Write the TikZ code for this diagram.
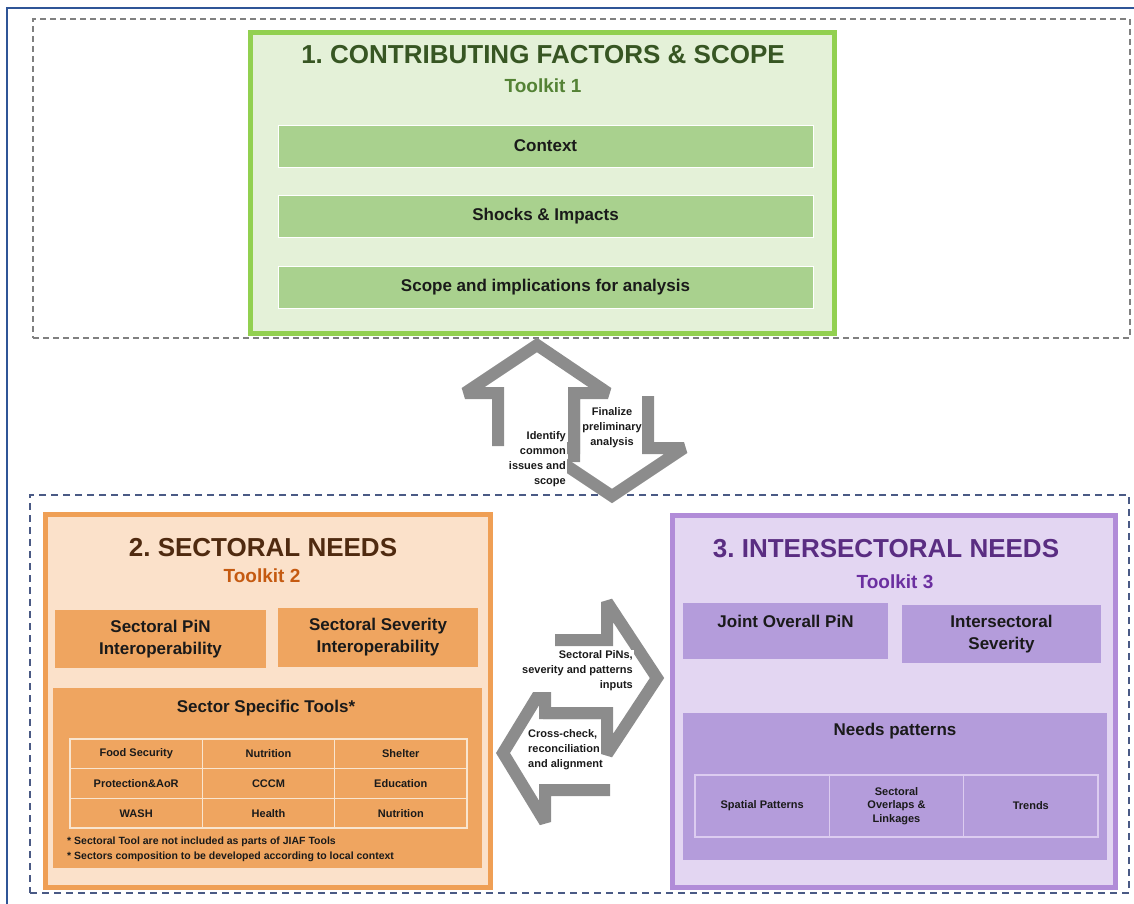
\documentclass[tikz,border=0pt]{standalone}
\usepackage{fontspec}
\setmainfont{Liberation Sans}
\usepackage{xcolor}
\usetikzlibrary{positioning}
\definecolor{frameblue}{HTML}{2F5597}
\definecolor{dashgray}{HTML}{808080}
\definecolor{dashblue}{HTML}{4A5A85}
\definecolor{arrowgray}{HTML}{8C8C8C}
\definecolor{greenedge}{HTML}{92D050}
\definecolor{greenfill}{HTML}{E4F1D8}
\definecolor{greenbar}{HTML}{A9D18E}
\definecolor{greentitle}{HTML}{375623}
\definecolor{greentool}{HTML}{548235}
\definecolor{orangeedge}{HTML}{EF9F55}
\definecolor{orangefill}{HTML}{FBE1CA}
\definecolor{orangebox}{HTML}{EFA560}
\definecolor{orangeline}{HTML}{F9E5CF}
\definecolor{orangetitle}{HTML}{4F2A10}
\definecolor{orangetool}{HTML}{C55A11}
\definecolor{purpleedge}{HTML}{B18CD8}
\definecolor{purplefill}{HTML}{E3D6F2}
\definecolor{purplebox}{HTML}{B49CDB}
\definecolor{purpleline}{HTML}{DCCCF0}
\definecolor{purpletitle}{HTML}{5A2D82}
\definecolor{purpletool}{HTML}{6B2FA0}
\definecolor{inktext}{HTML}{1A1A1A}

\begin{document}
\frenchspacing
\begin{tikzpicture}[
    x=1pt, y=-1pt,
    panel/.style={
        draw,
        line width=5pt,
        inner sep=0pt
    },
    heading/.style={
        font=\fontsize{26}{30}\selectfont\bfseries
    },
    toolkit/.style={
        font=\fontsize{19}{22}\selectfont\bfseries
    },
    bar/.style={
        draw=white,
        line width=1pt,
        inner sep=0pt,
        align=center,
        text=inktext,
        font=\fontsize{17}{22}\selectfont\bfseries
    },
    cell/.style={
        draw,
        line width=1.5pt,
        inner sep=0pt,
        align=center,
        text=inktext,
        font=\fontsize{11}{13.5}\selectfont\bfseries
    },
    flowtext/.style={
        inner sep=1pt,
        text=inktext,
        font=\fontsize{11}{15}\selectfont\bfseries
    },
    flow/.style={
        draw=arrowgray,
        line width=12pt,
        line join=miter,
        miter limit=2
    }
]

\useasboundingbox (0,0) rectangle (1134,903);

% Outer frame and dashed groups
\draw[frameblue, line width=1.5pt] (7,8) rectangle (1150,920);
\node[draw=dashgray, dashed, line width=1.5pt, dash pattern=on 6pt off 4pt,
      minimum width=1097pt, minimum height=319pt, inner sep=0pt] (topgroup) at (581.5,178.5) {};
\node[draw=dashblue, dashed, line width=1.5pt, dash pattern=on 7pt off 5pt,
      minimum width=1099pt, minimum height=398pt, inner sep=0pt] (botgroup) at (579.5,694) {};

% Toolkit 1
\node[panel, draw=greenedge, fill=greenfill, minimum width=584pt, minimum height=301pt] (tk1) at (542.5,183) {};
\node[heading, text=greentitle] (tk1title) at (543,55) {1. CONTRIBUTING FACTORS \& SCOPE};
\node[toolkit, text=greentool] (tk1name) at (543,86) {Toolkit 1};

\node[bar, fill=greenbar, minimum width=535pt, minimum height=42pt] (context) at (545.5,146) {Context};
\node[bar, fill=greenbar, minimum width=535pt, minimum height=42pt] (shocks) at (545.5,216) {Shocks \& Impacts};
\node[bar, fill=greenbar, minimum width=535pt, minimum height=42pt] (scope) at (545.5,287) {Scope and implications for analysis};

% Toolkit 2
\node[panel, draw=orangeedge, fill=orangefill, minimum width=445pt, minimum height=373pt] (tk2) at (268,701) {};
\node[heading, text=orangetitle] (tk2title) at (263,548) {2. SECTORAL NEEDS};
\node[toolkit, text=orangetool] (tk2name) at (262,576) {Toolkit 2};

\node[bar, draw=none, fill=orangebox, minimum width=211pt, minimum height=58pt] (spin) at (160.5,639) {Sectoral PiN\\Interoperability};
\node[bar, draw=none, fill=orangebox, minimum width=200pt, minimum height=59pt] (ssev) at (378,637.5) {Sectoral Severity\\Interoperability};

\node[bar, draw=none, fill=orangebox, minimum width=429pt, minimum height=180pt] (stools) at (267.5,778) {};
\node[bar, draw=none] (stoolstitle) at (266,708) {Sector Specific Tools*};

\node[cell, draw=orangeline, fill=orangebox, minimum width=132.3pt, minimum height=29.7pt] (food) at (136.2,753.8) {Food Security};
\node[cell, draw=orangeline, fill=orangebox, minimum width=132.3pt, minimum height=29.7pt] (nutr1) at (268.5,753.8) {Nutrition};
\node[cell, draw=orangeline, fill=orangebox, minimum width=132.3pt, minimum height=29.7pt] (shelter) at (400.8,753.8) {Shelter};
\node[cell, draw=orangeline, fill=orangebox, minimum width=132.3pt, minimum height=29.7pt] (prot) at (136.2,783.5) {Protection\&AoR};
\node[cell, draw=orangeline, fill=orangebox, minimum width=132.3pt, minimum height=29.7pt] (cccm) at (268.5,783.5) {CCCM};
\node[cell, draw=orangeline, fill=orangebox, minimum width=132.3pt, minimum height=29.7pt] (edu) at (400.8,783.5) {Education};
\node[cell, draw=orangeline, fill=orangebox, minimum width=132.3pt, minimum height=29.7pt] (wash) at (136.2,813.2) {WASH};
\node[cell, draw=orangeline, fill=orangebox, minimum width=132.3pt, minimum height=29.7pt] (health) at (268.5,813.2) {Health};
\node[cell, draw=orangeline, fill=orangebox, minimum width=132.3pt, minimum height=29.7pt] (nutr2) at (400.8,813.2) {Nutrition};

\node[anchor=west, align=left, inner sep=0pt, text=inktext,
      font=\fontsize{10.5}{15}\selectfont\bfseries] (notes) at (67,849.5)
    {* Sectoral Tool are not included as parts of JIAF Tools\\
     * Sectors composition to be developed according to local context};

% Toolkit 3
\node[panel, draw=purpleedge, fill=purplefill, minimum width=443pt, minimum height=372pt] (tk3) at (894,701.5) {};
\node[heading, text=purpletitle] (tk3title) at (886,549) {3. INTERSECTORAL NEEDS};
\node[toolkit, text=purpletool] (tk3name) at (895,582) {Toolkit 3};

\node[bar, draw=none, fill=purplebox, minimum width=205pt, minimum height=56pt,
      text height=24pt, text depth=32pt] (jpin) at (785.5,631) {Joint Overall PiN};
\node[bar, draw=none, fill=purplebox, minimum width=199pt, minimum height=58pt] (isev) at (1001.5,634) {Intersectoral\\Severity};

\node[bar, draw=none, fill=purplebox, minimum width=424pt, minimum height=147pt] (npat) at (895,786.5) {};
\node[bar, draw=none] (npattitle) at (895,731) {Needs patterns};

\node[cell, draw=purpleline, fill=purplebox, minimum width=134.3pt, minimum height=62pt] (spatial) at (762.2,806) {Spatial Patterns};
\node[cell, draw=purpleline, fill=purplebox, minimum width=134.3pt, minimum height=62pt] (overlap) at (896.5,806) {Sectoral\\Overlaps \&\\Linkages};
\node[cell, draw=purpleline, fill=purplebox, minimum width=134.3pt, minimum height=62pt] (trends) at (1030.8,806) {Trends};

% Flow arrows between toolkits
\draw[flow] (498,446) -- (498,393) -- (465,393) -- (537,345) -- (608,393) -- (574,393) -- (574,462);
\draw[flow] (574,396) -- (574,448) -- (540,448) -- (612,496) -- (684,448) -- (648,448) -- (648,396);

\draw[flow] (555,640) -- (607,640) -- (607,602) -- (657,678) -- (607,754) -- (607,713) -- (543,713);
\draw[flow] (610,713) -- (545,713) -- (545,684) -- (503,753) -- (545,822) -- (545,790) -- (610,790);

\node[flowtext, align=right, anchor=east, fill=white] (identify) at (567,459) {Identify\\common\\issues and\\scope};
\node[flowtext, align=center] (finalize) at (612,428) {Finalize\\preliminary\\analysis};
\node[flowtext, align=right, anchor=east, fill=white] (inputs) at (634,671) {Sectoral PiNs,\\severity and patterns\\inputs};
\node[flowtext, align=left, anchor=west] (crosscheck) at (527,750) {Cross-check,\\reconciliation\\and alignment};

\end{tikzpicture}
\end{document}
